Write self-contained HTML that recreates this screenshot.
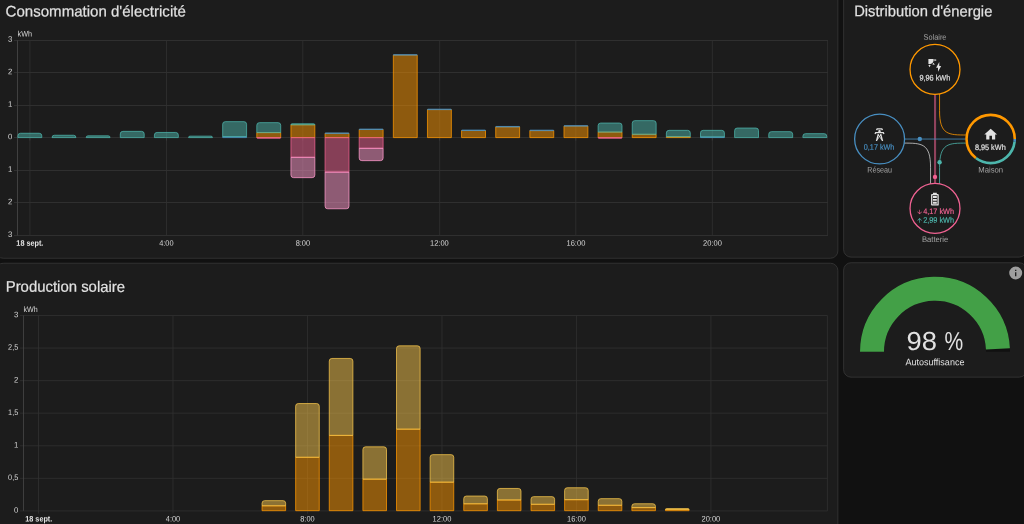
<!DOCTYPE html>
<html lang="fr"><head><meta charset="utf-8"><title>Énergie</title>
<style>
html,body{margin:0;padding:0;background:#111111;}
body{position:relative;width:1024px;height:524px;overflow:hidden;font-family:'Liberation Sans', 'DejaVu Sans', sans-serif;}
.card{position:absolute;margin:0;padding:0;overflow:hidden;}
.card svg{display:block;font-family:'Liberation Sans', 'DejaVu Sans', sans-serif;}
.card svg text{white-space:pre;}
</style></head>
<body>
<main>
<section class="card" id="card-usage" aria-label="Consommation d'électricité" style="left:0px;top:0px;width:841px;height:261px">
<svg viewBox="0 0 841 261" width="841" height="261">
<rect class="card-bg" x="-4.18" y="-12.28" width="842.06" height="270.56" rx="7.4" ry="7.4" fill="#1c1c1c" stroke="#414141" stroke-width="0.64"/>
<g class="card-header">
<text x="5.60" y="16.45" font-size="15.36" fill="#e1e1e1" textLength="180.2" lengthAdjust="spacingAndGlyphs" transform="rotate(0.05 5.60 16.45)" stroke="#e1e1e1" stroke-width="0.2">Consommation d'électricité</text>
</g>
<g class="chart">
<line x1="14.0" x2="828.0" y1="40.50" y2="40.50" stroke="#2f2f2f" stroke-width="1"/>
<line x1="14.0" x2="828.0" y1="72.50" y2="72.50" stroke="#2f2f2f" stroke-width="1"/>
<line x1="14.0" x2="828.0" y1="105.50" y2="105.50" stroke="#2f2f2f" stroke-width="1"/>
<line x1="14.0" x2="828.0" y1="137.50" y2="137.50" stroke="#2f2f2f" stroke-width="1"/>
<line x1="14.0" x2="828.0" y1="170.50" y2="170.50" stroke="#2f2f2f" stroke-width="1"/>
<line x1="14.0" x2="828.0" y1="202.50" y2="202.50" stroke="#2f2f2f" stroke-width="1"/>
<line x1="14.0" x2="828.0" y1="235.50" y2="235.50" stroke="#2f2f2f" stroke-width="1"/>
<line x1="17.5" x2="17.5" y1="40.3" y2="235.5" stroke="#404040" stroke-width="1"/>
<line x1="29.90" x2="29.90" y1="40.3" y2="235.5" stroke="#313131" stroke-width="0.8"/>
<line x1="166.50" x2="166.50" y1="40.3" y2="235.5" stroke="#313131" stroke-width="0.8"/>
<line x1="302.80" x2="302.80" y1="40.3" y2="235.5" stroke="#313131" stroke-width="0.8"/>
<line x1="439.70" x2="439.70" y1="40.3" y2="235.5" stroke="#313131" stroke-width="0.8"/>
<line x1="575.80" x2="575.80" y1="40.3" y2="235.5" stroke="#313131" stroke-width="0.8"/>
<line x1="712.30" x2="712.30" y1="40.3" y2="235.5" stroke="#313131" stroke-width="0.8"/>
<line x1="827.6" x2="827.6" y1="40.3" y2="235.5" stroke="#313131" stroke-width="0.8"/>
<line x1="29.90" x2="29.90" y1="138" y2="140.6" stroke="#3a3a3a" stroke-width="0.8"/>
<line x1="166.50" x2="166.50" y1="138" y2="140.6" stroke="#3a3a3a" stroke-width="0.8"/>
<line x1="302.80" x2="302.80" y1="138" y2="140.6" stroke="#3a3a3a" stroke-width="0.8"/>
<line x1="439.70" x2="439.70" y1="138" y2="140.6" stroke="#3a3a3a" stroke-width="0.8"/>
<line x1="575.80" x2="575.80" y1="138" y2="140.6" stroke="#3a3a3a" stroke-width="0.8"/>
<line x1="712.30" x2="712.30" y1="138" y2="140.6" stroke="#3a3a3a" stroke-width="0.8"/>
<text x="12.30" y="41.70" font-size="8.0" fill="#d6d6d6" text-anchor="end" textLength="4.3" lengthAdjust="spacingAndGlyphs" transform="rotate(0.05 12.30 41.70)">3</text>
<text x="12.30" y="74.23" font-size="8.0" fill="#d6d6d6" text-anchor="end" textLength="4.3" lengthAdjust="spacingAndGlyphs" transform="rotate(0.05 12.30 74.23)">2</text>
<text x="12.30" y="106.77" font-size="8.0" fill="#d6d6d6" text-anchor="end" textLength="4.3" lengthAdjust="spacingAndGlyphs" transform="rotate(0.05 12.30 106.77)">1</text>
<text x="12.30" y="139.30" font-size="8.0" fill="#d6d6d6" text-anchor="end" textLength="4.3" lengthAdjust="spacingAndGlyphs" transform="rotate(0.05 12.30 139.30)">0</text>
<text x="12.30" y="171.83" font-size="8.0" fill="#d6d6d6" text-anchor="end" textLength="4.3" lengthAdjust="spacingAndGlyphs" transform="rotate(0.05 12.30 171.83)">1</text>
<text x="12.30" y="204.37" font-size="8.0" fill="#d6d6d6" text-anchor="end" textLength="4.3" lengthAdjust="spacingAndGlyphs" transform="rotate(0.05 12.30 204.37)">2</text>
<text x="12.30" y="236.90" font-size="8.0" fill="#d6d6d6" text-anchor="end" textLength="4.3" lengthAdjust="spacingAndGlyphs" transform="rotate(0.05 12.30 236.90)">3</text>
<text x="17.50" y="36.60" font-size="8.0" fill="#d6d6d6" textLength="14.5" lengthAdjust="spacingAndGlyphs" transform="rotate(0.05 17.50 36.60)">kWh</text>
<text x="29.85" y="245.70" font-size="8.0" fill="#e4e4e4" text-anchor="middle" textLength="27" lengthAdjust="spacingAndGlyphs" font-weight="bold" transform="rotate(0.05 29.85 245.70)">18 sept.</text>
<text x="166.37" y="245.70" font-size="8.0" fill="#d6d6d6" text-anchor="middle" textLength="14.4" lengthAdjust="spacingAndGlyphs" transform="rotate(0.05 166.37 245.70)">4:00</text>
<text x="302.89" y="245.70" font-size="8.0" fill="#d6d6d6" text-anchor="middle" textLength="14.4" lengthAdjust="spacingAndGlyphs" transform="rotate(0.05 302.89 245.70)">8:00</text>
<text x="439.41" y="245.70" font-size="8.0" fill="#d6d6d6" text-anchor="middle" textLength="18.8" lengthAdjust="spacingAndGlyphs" transform="rotate(0.05 439.41 245.70)">12:00</text>
<text x="575.93" y="245.70" font-size="8.0" fill="#d6d6d6" text-anchor="middle" textLength="18.8" lengthAdjust="spacingAndGlyphs" transform="rotate(0.05 575.93 245.70)">16:00</text>
<text x="712.45" y="245.70" font-size="8.0" fill="#d6d6d6" text-anchor="middle" textLength="18.8" lengthAdjust="spacingAndGlyphs" transform="rotate(0.05 712.45 245.70)">20:00</text>
<path d="M17.90,135.85A2.60,2.60 0 0 1 20.50,133.25H39.20A2.60,2.60 0 0 1 41.80,135.85V137.60H17.90Z" fill="#4db6ac" fill-opacity="0.5" stroke="#4db6ac" stroke-width="0.75"/>
<path d="M52.03,137.60A2.35,2.35 0 0 1 54.38,135.25H73.58A2.35,2.35 0 0 1 75.93,137.60V137.60H52.03Z" fill="#4db6ac" fill-opacity="0.5" stroke="#4db6ac" stroke-width="0.75"/>
<path d="M86.16,137.60A1.75,1.75 0 0 1 87.91,135.85H108.31A1.75,1.75 0 0 1 110.06,137.60V137.60H86.16Z" fill="#4db6ac" fill-opacity="0.5" stroke="#4db6ac" stroke-width="0.75"/>
<path d="M120.29,133.95A2.60,2.60 0 0 1 122.89,131.35H141.59A2.60,2.60 0 0 1 144.19,133.95V137.60H120.29Z" fill="#4db6ac" fill-opacity="0.5" stroke="#4db6ac" stroke-width="0.75"/>
<path d="M154.42,135.05A2.60,2.60 0 0 1 157.02,132.45H175.72A2.60,2.60 0 0 1 178.32,135.05V137.60H154.42Z" fill="#4db6ac" fill-opacity="0.5" stroke="#4db6ac" stroke-width="0.75"/>
<path d="M188.55,137.60A1.45,1.45 0 0 1 190.00,136.15H211.00A1.45,1.45 0 0 1 212.45,137.60V137.60H188.55Z" fill="#4db6ac" fill-opacity="0.5" stroke="#4db6ac" stroke-width="0.75"/>
<path d="M222.68,136.70H246.58V137.60H222.68Z" fill="#488fc2" fill-opacity="0.5" stroke="#488fc2" stroke-width="0.75"/>
<path d="M222.68,124.25A2.60,2.60 0 0 1 225.28,121.65H243.98A2.60,2.60 0 0 1 246.58,124.25V136.70H222.68Z" fill="#4db6ac" fill-opacity="0.5" stroke="#4db6ac" stroke-width="0.75"/>
<path d="M256.81,132.60H280.71V137.60H256.81Z" fill="#ff9800" fill-opacity="0.5" stroke="#ff9800" stroke-width="0.75"/>
<path d="M256.81,125.25A2.60,2.60 0 0 1 259.41,122.65H278.11A2.60,2.60 0 0 1 280.71,125.25V132.60H256.81Z" fill="#4db6ac" fill-opacity="0.5" stroke="#4db6ac" stroke-width="0.75"/>
<path d="M256.81,137.60H280.71V137.60A0.65,0.65 0 0 1 280.06,138.25H257.46A0.65,0.65 0 0 1 256.81,137.60Z" fill="#f06292" fill-opacity="0.5" stroke="#f06292" stroke-width="0.75"/>
<path d="M290.94,124.80H314.84V137.60H290.94Z" fill="#ff9800" fill-opacity="0.5" stroke="#ff9800" stroke-width="0.75"/>
<path d="M290.94,124.80A1.05,1.05 0 0 1 291.99,123.75H313.79A1.05,1.05 0 0 1 314.84,124.80V124.80H290.94Z" fill="#4db6ac" fill-opacity="0.5" stroke="#4db6ac" stroke-width="0.75"/>
<path d="M290.94,137.60H314.84V157.30H290.94Z" fill="#f06292" fill-opacity="0.5" stroke="#f06292" stroke-width="0.75"/>
<path d="M290.94,157.30H314.84V175.05A2.60,2.60 0 0 1 312.24,177.65H293.54A2.60,2.60 0 0 1 290.94,175.05Z" fill="#ff9acc" fill-opacity="0.5" stroke="#ff9acc" stroke-width="0.75"/>
<path d="M325.07,133.40H348.97V137.60H325.07Z" fill="#ff9800" fill-opacity="0.5" stroke="#ff9800" stroke-width="0.75"/>
<path d="M325.07,133.40A0.45,0.45 0 0 1 325.52,132.95H348.52A0.45,0.45 0 0 1 348.97,133.40V133.40H325.07Z" fill="#488fc2" fill-opacity="0.5" stroke="#488fc2" stroke-width="0.75"/>
<path d="M325.07,137.60H348.97V172.10H325.07Z" fill="#f06292" fill-opacity="0.5" stroke="#f06292" stroke-width="0.75"/>
<path d="M325.07,172.10H348.97V206.15A2.60,2.60 0 0 1 346.37,208.75H327.67A2.60,2.60 0 0 1 325.07,206.15Z" fill="#ff9acc" fill-opacity="0.5" stroke="#ff9acc" stroke-width="0.75"/>
<path d="M359.20,129.50H383.10V137.60H359.20Z" fill="#ff9800" fill-opacity="0.5" stroke="#ff9800" stroke-width="0.75"/>
<path d="M359.20,129.50A0.45,0.45 0 0 1 359.65,129.05H382.65A0.45,0.45 0 0 1 383.10,129.50V129.50H359.20Z" fill="#488fc2" fill-opacity="0.5" stroke="#488fc2" stroke-width="0.75"/>
<path d="M359.20,137.60H383.10V148.30H359.20Z" fill="#f06292" fill-opacity="0.5" stroke="#f06292" stroke-width="0.75"/>
<path d="M359.20,148.30H383.10V158.05A2.60,2.60 0 0 1 380.50,160.65H361.80A2.60,2.60 0 0 1 359.20,158.05Z" fill="#ff9acc" fill-opacity="0.5" stroke="#ff9acc" stroke-width="0.75"/>
<path d="M393.33,55.10H417.23V137.60H393.33Z" fill="#ff9800" fill-opacity="0.5" stroke="#ff9800" stroke-width="0.75"/>
<path d="M393.33,55.10A0.45,0.45 0 0 1 393.78,54.65H416.78A0.45,0.45 0 0 1 417.23,55.10V55.10H393.33Z" fill="#488fc2" fill-opacity="0.5" stroke="#488fc2" stroke-width="0.75"/>
<path d="M427.46,109.60H451.36V137.60H427.46Z" fill="#ff9800" fill-opacity="0.5" stroke="#ff9800" stroke-width="0.75"/>
<path d="M427.46,109.60A0.45,0.45 0 0 1 427.91,109.15H450.91A0.45,0.45 0 0 1 451.36,109.60V109.60H427.46Z" fill="#488fc2" fill-opacity="0.5" stroke="#488fc2" stroke-width="0.75"/>
<path d="M461.59,130.50H485.49V137.60H461.59Z" fill="#ff9800" fill-opacity="0.5" stroke="#ff9800" stroke-width="0.75"/>
<path d="M461.59,130.50A0.45,0.45 0 0 1 462.04,130.05H485.04A0.45,0.45 0 0 1 485.49,130.50V130.50H461.59Z" fill="#488fc2" fill-opacity="0.5" stroke="#488fc2" stroke-width="0.75"/>
<path d="M495.72,126.90H519.62V137.60H495.72Z" fill="#ff9800" fill-opacity="0.5" stroke="#ff9800" stroke-width="0.75"/>
<path d="M495.72,126.90A0.45,0.45 0 0 1 496.17,126.45H519.17A0.45,0.45 0 0 1 519.62,126.90V126.90H495.72Z" fill="#488fc2" fill-opacity="0.5" stroke="#488fc2" stroke-width="0.75"/>
<path d="M529.85,130.60H553.75V137.60H529.85Z" fill="#ff9800" fill-opacity="0.5" stroke="#ff9800" stroke-width="0.75"/>
<path d="M529.85,130.60A0.45,0.45 0 0 1 530.30,130.15H553.30A0.45,0.45 0 0 1 553.75,130.60V130.60H529.85Z" fill="#488fc2" fill-opacity="0.5" stroke="#488fc2" stroke-width="0.75"/>
<path d="M563.98,126.10H587.88V137.60H563.98Z" fill="#ff9800" fill-opacity="0.5" stroke="#ff9800" stroke-width="0.75"/>
<path d="M563.98,126.10A0.45,0.45 0 0 1 564.43,125.65H587.43A0.45,0.45 0 0 1 587.88,126.10V126.10H563.98Z" fill="#488fc2" fill-opacity="0.5" stroke="#488fc2" stroke-width="0.75"/>
<path d="M598.11,132.10H622.01V137.60H598.11Z" fill="#ff9800" fill-opacity="0.5" stroke="#ff9800" stroke-width="0.75"/>
<path d="M598.11,125.65A2.60,2.60 0 0 1 600.71,123.05H619.41A2.60,2.60 0 0 1 622.01,125.65V132.10H598.11Z" fill="#4db6ac" fill-opacity="0.5" stroke="#4db6ac" stroke-width="0.75"/>
<path d="M598.11,137.60H622.01V137.60A0.65,0.65 0 0 1 621.36,138.25H598.76A0.65,0.65 0 0 1 598.11,137.60Z" fill="#f06292" fill-opacity="0.5" stroke="#f06292" stroke-width="0.75"/>
<path d="M632.24,134.30H656.14V137.60H632.24Z" fill="#ff9800" fill-opacity="0.5" stroke="#ff9800" stroke-width="0.75"/>
<path d="M632.24,123.25A2.60,2.60 0 0 1 634.84,120.65H653.54A2.60,2.60 0 0 1 656.14,123.25V134.30H632.24Z" fill="#4db6ac" fill-opacity="0.5" stroke="#4db6ac" stroke-width="0.75"/>
<path d="M666.37,136.70H690.27V137.60H666.37Z" fill="#ff9800" fill-opacity="0.5" stroke="#ff9800" stroke-width="0.75"/>
<path d="M666.37,132.95A2.60,2.60 0 0 1 668.97,130.35H687.67A2.60,2.60 0 0 1 690.27,132.95V136.70H666.37Z" fill="#4db6ac" fill-opacity="0.5" stroke="#4db6ac" stroke-width="0.75"/>
<path d="M700.50,137.00H724.40V137.60H700.50Z" fill="#488fc2" fill-opacity="0.5" stroke="#488fc2" stroke-width="0.75"/>
<path d="M700.50,132.95A2.60,2.60 0 0 1 703.10,130.35H721.80A2.60,2.60 0 0 1 724.40,132.95V137.00H700.50Z" fill="#4db6ac" fill-opacity="0.5" stroke="#4db6ac" stroke-width="0.75"/>
<path d="M734.63,130.65A2.60,2.60 0 0 1 737.23,128.05H755.93A2.60,2.60 0 0 1 758.53,130.65V137.60H734.63Z" fill="#4db6ac" fill-opacity="0.5" stroke="#4db6ac" stroke-width="0.75"/>
<path d="M768.76,134.25A2.60,2.60 0 0 1 771.36,131.65H790.06A2.60,2.60 0 0 1 792.66,134.25V137.60H768.76Z" fill="#4db6ac" fill-opacity="0.5" stroke="#4db6ac" stroke-width="0.75"/>
<path d="M802.89,136.25A2.60,2.60 0 0 1 805.49,133.65H824.19A2.60,2.60 0 0 1 826.79,136.25V137.60H802.89Z" fill="#4db6ac" fill-opacity="0.5" stroke="#4db6ac" stroke-width="0.75"/>
</g>
</svg>
</section>
<section class="card" id="card-solar" aria-label="Production solaire" style="left:0px;top:261px;width:841px;height:263px">
<svg viewBox="0 261 841 263" width="841" height="263">
<rect class="card-bg" x="-4.18" y="263.22" width="842.06" height="270.46" rx="7.4" ry="7.4" fill="#1c1c1c" stroke="#414141" stroke-width="0.64"/>
<g class="card-header">
<text x="5.70" y="291.80" font-size="15.36" fill="#e1e1e1" textLength="119.4" lengthAdjust="spacingAndGlyphs" transform="rotate(0.05 5.70 291.80)" stroke="#e1e1e1" stroke-width="0.2">Production solaire</text>
</g>
<g class="chart">
<line x1="20.0" x2="827.4" y1="315.50" y2="315.50" stroke="#313131" stroke-width="0.8"/>
<line x1="20.0" x2="827.4" y1="348.07" y2="348.07" stroke="#313131" stroke-width="0.8"/>
<line x1="20.0" x2="827.4" y1="380.63" y2="380.63" stroke="#313131" stroke-width="0.8"/>
<line x1="20.0" x2="827.4" y1="413.20" y2="413.20" stroke="#313131" stroke-width="0.8"/>
<line x1="20.0" x2="827.4" y1="445.77" y2="445.77" stroke="#313131" stroke-width="0.8"/>
<line x1="20.0" x2="827.4" y1="478.33" y2="478.33" stroke="#313131" stroke-width="0.8"/>
<line x1="20.0" x2="827.4" y1="510.90" y2="510.90" stroke="#313131" stroke-width="0.8"/>
<line x1="23.5" x2="23.5" y1="315.5" y2="510.9" stroke="#484848" stroke-width="0.8"/>
<line x1="38.50" x2="38.50" y1="315.5" y2="510.9" stroke="#313131" stroke-width="0.8"/>
<line x1="172.98" x2="172.98" y1="315.5" y2="510.9" stroke="#313131" stroke-width="0.8"/>
<line x1="307.46" x2="307.46" y1="315.5" y2="510.9" stroke="#313131" stroke-width="0.8"/>
<line x1="441.94" x2="441.94" y1="315.5" y2="510.9" stroke="#313131" stroke-width="0.8"/>
<line x1="576.42" x2="576.42" y1="315.5" y2="510.9" stroke="#313131" stroke-width="0.8"/>
<line x1="710.90" x2="710.90" y1="315.5" y2="510.9" stroke="#313131" stroke-width="0.8"/>
<line x1="827.4" x2="827.4" y1="315.5" y2="510.9" stroke="#313131" stroke-width="0.8"/>
<line x1="38.50" x2="38.50" y1="510.9" y2="513.6" stroke="#313131" stroke-width="0.8"/>
<line x1="172.98" x2="172.98" y1="510.9" y2="513.6" stroke="#313131" stroke-width="0.8"/>
<line x1="307.46" x2="307.46" y1="510.9" y2="513.6" stroke="#313131" stroke-width="0.8"/>
<line x1="441.94" x2="441.94" y1="510.9" y2="513.6" stroke="#313131" stroke-width="0.8"/>
<line x1="576.42" x2="576.42" y1="510.9" y2="513.6" stroke="#313131" stroke-width="0.8"/>
<line x1="710.90" x2="710.90" y1="510.9" y2="513.6" stroke="#313131" stroke-width="0.8"/>
<text x="18.30" y="317.30" font-size="8.0" fill="#d6d6d6" text-anchor="end" textLength="4.3" lengthAdjust="spacingAndGlyphs" transform="rotate(0.05 18.30 317.30)">3</text>
<text x="18.30" y="349.87" font-size="8.0" fill="#d6d6d6" text-anchor="end" textLength="10.2" lengthAdjust="spacingAndGlyphs" transform="rotate(0.05 18.30 349.87)">2,5</text>
<text x="18.30" y="382.43" font-size="8.0" fill="#d6d6d6" text-anchor="end" textLength="4.3" lengthAdjust="spacingAndGlyphs" transform="rotate(0.05 18.30 382.43)">2</text>
<text x="18.30" y="415.00" font-size="8.0" fill="#d6d6d6" text-anchor="end" textLength="10.2" lengthAdjust="spacingAndGlyphs" transform="rotate(0.05 18.30 415.00)">1,5</text>
<text x="18.30" y="447.57" font-size="8.0" fill="#d6d6d6" text-anchor="end" textLength="4.3" lengthAdjust="spacingAndGlyphs" transform="rotate(0.05 18.30 447.57)">1</text>
<text x="18.30" y="480.13" font-size="8.0" fill="#d6d6d6" text-anchor="end" textLength="10.2" lengthAdjust="spacingAndGlyphs" transform="rotate(0.05 18.30 480.13)">0,5</text>
<text x="18.30" y="512.70" font-size="8.0" fill="#d6d6d6" text-anchor="end" textLength="4.3" lengthAdjust="spacingAndGlyphs" transform="rotate(0.05 18.30 512.70)">0</text>
<text x="23.50" y="311.90" font-size="8.0" fill="#d6d6d6" textLength="14.2" lengthAdjust="spacingAndGlyphs" transform="rotate(0.05 23.50 311.90)">kWh</text>
<text x="38.80" y="521.40" font-size="8.0" fill="#e4e4e4" text-anchor="middle" textLength="27" lengthAdjust="spacingAndGlyphs" font-weight="bold" transform="rotate(0.05 38.80 521.40)">18 sept.</text>
<text x="172.98" y="521.40" font-size="8.0" fill="#d6d6d6" text-anchor="middle" textLength="14.4" lengthAdjust="spacingAndGlyphs" transform="rotate(0.05 172.98 521.40)">4:00</text>
<text x="307.46" y="521.40" font-size="8.0" fill="#d6d6d6" text-anchor="middle" textLength="14.4" lengthAdjust="spacingAndGlyphs" transform="rotate(0.05 307.46 521.40)">8:00</text>
<text x="441.94" y="521.40" font-size="8.0" fill="#d6d6d6" text-anchor="middle" textLength="18.8" lengthAdjust="spacingAndGlyphs" transform="rotate(0.05 441.94 521.40)">12:00</text>
<text x="576.42" y="521.40" font-size="8.0" fill="#d6d6d6" text-anchor="middle" textLength="18.8" lengthAdjust="spacingAndGlyphs" transform="rotate(0.05 576.42 521.40)">16:00</text>
<text x="710.90" y="521.40" font-size="8.0" fill="#d6d6d6" text-anchor="middle" textLength="18.8" lengthAdjust="spacingAndGlyphs" transform="rotate(0.05 710.90 521.40)">20:00</text>
<path d="M262.04,505.80H285.64V510.70H262.04Z" fill="#ff9800" fill-opacity="0.5" stroke="#ff9800" stroke-width="0.75"/>
<path d="M262.04,503.25A2.60,2.60 0 0 1 264.64,500.65H283.04A2.60,2.60 0 0 1 285.64,503.25V505.80H262.04Z" fill="#f7c64c" fill-opacity="0.5" stroke="#f7c64c" stroke-width="0.75"/>
<path d="M295.66,457.30H319.26V510.70H295.66Z" fill="#ff9800" fill-opacity="0.5" stroke="#ff9800" stroke-width="0.75"/>
<path d="M295.66,406.15A2.60,2.60 0 0 1 298.26,403.55H316.66A2.60,2.60 0 0 1 319.26,406.15V457.30H295.66Z" fill="#f7c64c" fill-opacity="0.5" stroke="#f7c64c" stroke-width="0.75"/>
<path d="M329.28,435.40H352.88V510.70H329.28Z" fill="#ff9800" fill-opacity="0.5" stroke="#ff9800" stroke-width="0.75"/>
<path d="M329.28,361.05A2.60,2.60 0 0 1 331.88,358.45H350.28A2.60,2.60 0 0 1 352.88,361.05V435.40H329.28Z" fill="#f7c64c" fill-opacity="0.5" stroke="#f7c64c" stroke-width="0.75"/>
<path d="M362.90,479.20H386.50V510.70H362.90Z" fill="#ff9800" fill-opacity="0.5" stroke="#ff9800" stroke-width="0.75"/>
<path d="M362.90,449.45A2.60,2.60 0 0 1 365.50,446.85H383.90A2.60,2.60 0 0 1 386.50,449.45V479.20H362.90Z" fill="#f7c64c" fill-opacity="0.5" stroke="#f7c64c" stroke-width="0.75"/>
<path d="M396.52,429.20H420.12V510.70H396.52Z" fill="#ff9800" fill-opacity="0.5" stroke="#ff9800" stroke-width="0.75"/>
<path d="M396.52,348.45A2.60,2.60 0 0 1 399.12,345.85H417.52A2.60,2.60 0 0 1 420.12,348.45V429.20H396.52Z" fill="#f7c64c" fill-opacity="0.5" stroke="#f7c64c" stroke-width="0.75"/>
<path d="M430.14,482.20H453.74V510.70H430.14Z" fill="#ff9800" fill-opacity="0.5" stroke="#ff9800" stroke-width="0.75"/>
<path d="M430.14,457.25A2.60,2.60 0 0 1 432.74,454.65H451.14A2.60,2.60 0 0 1 453.74,457.25V482.20H430.14Z" fill="#f7c64c" fill-opacity="0.5" stroke="#f7c64c" stroke-width="0.75"/>
<path d="M463.76,503.80H487.36V510.70H463.76Z" fill="#ff9800" fill-opacity="0.5" stroke="#ff9800" stroke-width="0.75"/>
<path d="M463.76,498.65A2.60,2.60 0 0 1 466.36,496.05H484.76A2.60,2.60 0 0 1 487.36,498.65V503.80H463.76Z" fill="#f7c64c" fill-opacity="0.5" stroke="#f7c64c" stroke-width="0.75"/>
<path d="M497.38,500.00H520.98V510.70H497.38Z" fill="#ff9800" fill-opacity="0.5" stroke="#ff9800" stroke-width="0.75"/>
<path d="M497.38,491.05A2.60,2.60 0 0 1 499.98,488.45H518.38A2.60,2.60 0 0 1 520.98,491.05V500.00H497.38Z" fill="#f7c64c" fill-opacity="0.5" stroke="#f7c64c" stroke-width="0.75"/>
<path d="M531.00,504.30H554.60V510.70H531.00Z" fill="#ff9800" fill-opacity="0.5" stroke="#ff9800" stroke-width="0.75"/>
<path d="M531.00,499.25A2.60,2.60 0 0 1 533.60,496.65H552.00A2.60,2.60 0 0 1 554.60,499.25V504.30H531.00Z" fill="#f7c64c" fill-opacity="0.5" stroke="#f7c64c" stroke-width="0.75"/>
<path d="M564.62,499.70H588.22V510.70H564.62Z" fill="#ff9800" fill-opacity="0.5" stroke="#ff9800" stroke-width="0.75"/>
<path d="M564.62,490.35A2.60,2.60 0 0 1 567.22,487.75H585.62A2.60,2.60 0 0 1 588.22,490.35V499.70H564.62Z" fill="#f7c64c" fill-opacity="0.5" stroke="#f7c64c" stroke-width="0.75"/>
<path d="M598.24,505.30H621.84V510.70H598.24Z" fill="#ff9800" fill-opacity="0.5" stroke="#ff9800" stroke-width="0.75"/>
<path d="M598.24,501.25A2.60,2.60 0 0 1 600.84,498.65H619.24A2.60,2.60 0 0 1 621.84,501.25V505.30H598.24Z" fill="#f7c64c" fill-opacity="0.5" stroke="#f7c64c" stroke-width="0.75"/>
<path d="M631.86,507.60H655.46V510.70H631.86Z" fill="#ff9800" fill-opacity="0.5" stroke="#ff9800" stroke-width="0.75"/>
<path d="M631.86,506.35A2.60,2.60 0 0 1 634.46,503.75H652.86A2.60,2.60 0 0 1 655.46,506.35V507.60H631.86Z" fill="#f7c64c" fill-opacity="0.5" stroke="#f7c64c" stroke-width="0.75"/>
<path d="M665.48,509.60H689.08V510.70H665.48Z" fill="#ff9800" fill-opacity="0.5" stroke="#ff9800" stroke-width="0.75"/>
<path d="M665.48,509.60A1.05,1.05 0 0 1 666.53,508.55H688.03A1.05,1.05 0 0 1 689.08,509.60V509.60H665.48Z" fill="#f7c64c" fill-opacity="0.5" stroke="#f7c64c" stroke-width="0.75"/>
</g>
</svg>
</section>
<section class="card" id="card-dist" aria-label="Distribution d'énergie" style="left:841px;top:0px;width:183px;height:260px">
<svg viewBox="841 0 183 260" width="183" height="260">
<rect class="card-bg" x="843.62" y="-12.28" width="182.96" height="269.41" rx="7.4" ry="7.4" fill="#1c1c1c" stroke="#414141" stroke-width="0.64"/>
<g class="card-header">
<text x="854.15" y="16.30" font-size="15.36" fill="#e1e1e1" textLength="138.2" lengthAdjust="spacingAndGlyphs" transform="rotate(0.05 854.15 16.30)" stroke="#e1e1e1" stroke-width="0.2">Distribution d'énergie</text>
</g>
<g class="flow">
<g transform="translate(890.05,98.55) scale(0.9,0.81)" fill="none" stroke-width="0.8">
<path d="M55,-6 v21 c0,30 10,30 30,30 h25" stroke="#ff9800" vector-effect="non-scaling-stroke"/>
<path d="M50,-6 V106" stroke="#f06292" stroke-opacity="0.55" stroke-width="2.1" vector-effect="non-scaling-stroke"/>
<path d="M55,106 v-21 c0,-30 10,-30 30,-30 h20" stroke="#4db6ac" vector-effect="non-scaling-stroke"/>
<path d="M45,106 v-21 c0,-30 -10,-30 -30,-30 h-20" stroke="#cfcfcf" vector-effect="non-scaling-stroke"/>
<path d="M0,50 H100" stroke="#488fc2" vector-effect="non-scaling-stroke"/>
</g>
<circle cx="919.8" cy="139" r="2.2" fill="#488fc2"/>
<circle cx="939.6" cy="162.2" r="2.2" fill="#4db6ac"/>
<circle cx="935" cy="176.9" r="2.2" fill="#f06292"/>
<circle cx="935" cy="69.4" r="24.96" fill="#1c1c1c" stroke="#ff9800" stroke-width="1.3"/>
<circle cx="879.6" cy="139" r="24.96" fill="#1c1c1c" stroke="#488fc2" stroke-width="1.3"/>
<circle cx="935" cy="208.4" r="24.96" fill="#1c1c1c" stroke="#f06292" stroke-width="1.3"/>
<circle cx="990.65" cy="139.0" r="25.3" fill="#1c1c1c"/>
<circle cx="990.65" cy="139.0" r="24.12" fill="none" stroke="#488fc2" stroke-width="2.56" stroke-dasharray="2.879 148.672" stroke-dashoffset="0.000"/>
<circle cx="990.65" cy="139.0" r="24.12" fill="none" stroke="#4db6ac" stroke-width="2.56" stroke-dasharray="50.630 100.921" stroke-dashoffset="-2.879"/>
<circle cx="990.65" cy="139.0" r="24.12" fill="none" stroke="#ff9800" stroke-width="2.56" stroke-dasharray="98.042 53.508" stroke-dashoffset="-53.508"/>
<path transform="translate(927.12,57.62) scale(0.6400)" d="M11.45,2V5.55L15,3.77L11.45,2M10.45,8L8,10.46L11.75,11.71L10.45,8M2,11.45L3.77,15L5.55,11.45H2M10,2H2V10C2.57,10.17 3.17,10.25 3.77,10.25C7.35,10.26 10.26,7.35 10.27,3.75C10.26,3.16 10.17,2.57 10,2M17,22V16H14L19,7V13H22L17,22Z" fill="#e1e1e1"/>
<path transform="translate(871.82,126.92) scale(0.6400)" d="M8.28,5.45L6.5,4.55L7.76,2H16.23L17.5,4.55L15.72,5.44L15,4H9L8.28,5.45M18.62,8H14.09L13.3,5H10.7L9.91,8H5.38L4.1,10.55L5.89,11.44L6.62,10H17.38L18.1,11.45L19.89,10.56L18.62,8M17.77,22H15.7L15.46,21.1L12,15.9L8.53,21.1L8.3,22H6.23L9.12,11H11.19L10.83,12.35L12,14.1L13.16,12.35L12.81,11H14.88L17.77,22M11.4,15L10.5,13.65L9.32,18.13L11.4,15M14.68,18.12L13.5,13.64L12.6,15L14.68,18.12Z" fill="#e1e1e1"/>
<path transform="translate(983.02,126.82) scale(0.6400)" d="M10,20V14H14V20H19V12H22L12,3L2,12H5V20H10Z" fill="#e1e1e1"/>
<path transform="translate(927.22,191.52) scale(0.6400)" d="M16,20H8V6H16M16.67,4H15V2H9V4H7.33A1.33,1.33 0 0,0 6,5.33V20.67C6,21.4 6.6,22 7.33,22H16.67A1.33,1.33 0 0,0 18,20.67V5.33C18,4.6 17.4,4 16.67,4M15,16H9V19H15V16M15,7H9V10H15V7M15,11.5H9V14.5H15V11.5Z" fill="#e1e1e1"/>
<text x="935.00" y="39.70" font-size="8.0" fill="#a4a4a4" text-anchor="middle" textLength="22.8" lengthAdjust="spacingAndGlyphs" transform="rotate(0.05 935.00 39.70)">Solaire</text>
<text x="934.90" y="80.55" font-size="8.0" fill="#e1e1e1" text-anchor="middle" textLength="30.9" lengthAdjust="spacingAndGlyphs" transform="rotate(0.05 934.90 80.55)" stroke="#e1e1e1" stroke-width="0.18">9,96 kWh</text>
<text x="879.10" y="149.80" font-size="8.0" fill="#488fc2" text-anchor="middle" textLength="30.5" lengthAdjust="spacingAndGlyphs" transform="rotate(0.05 879.10 149.80)" stroke="#488fc2" stroke-width="0.18">0,17 kWh</text>
<text x="879.60" y="172.60" font-size="8.0" fill="#a4a4a4" text-anchor="middle" textLength="24.8" lengthAdjust="spacingAndGlyphs" transform="rotate(0.05 879.60 172.60)">Réseau</text>
<text x="990.30" y="149.90" font-size="8.0" fill="#e1e1e1" text-anchor="middle" textLength="30.8" lengthAdjust="spacingAndGlyphs" transform="rotate(0.05 990.30 149.90)" stroke="#e1e1e1" stroke-width="0.18">8,95 kWh</text>
<text x="990.70" y="172.60" font-size="8.0" fill="#a4a4a4" text-anchor="middle" textLength="24.9" lengthAdjust="spacingAndGlyphs" transform="rotate(0.05 990.70 172.60)">Maison</text>
<path transform="translate(916.10,208.50) scale(0.2917)" d="M11,4H13V16L18.5,10.5L19.92,11.92L12,19.84L4.08,11.92L5.5,10.5L11,16V4Z" fill="#f06292"/>
<text x="923.20" y="214.10" font-size="8.0" fill="#f06292" textLength="30.9" lengthAdjust="spacingAndGlyphs" transform="rotate(0.05 923.20 214.10)" stroke="#f06292" stroke-width="0.18">4,17 kWh</text>
<path transform="translate(916.10,216.90) scale(0.2917)" d="M13,20H11V8L5.5,13.5L4.08,12.08L12,4.16L19.92,12.08L18.5,13.5L13,8V20Z" fill="#4db6ac"/>
<text x="923.20" y="222.80" font-size="8.0" fill="#4db6ac" textLength="30.9" lengthAdjust="spacingAndGlyphs" transform="rotate(0.05 923.20 222.80)" stroke="#4db6ac" stroke-width="0.18">2,99 kWh</text>
<text x="935.10" y="242.00" font-size="8.0" fill="#a4a4a4" text-anchor="middle" textLength="26.3" lengthAdjust="spacingAndGlyphs" transform="rotate(0.05 935.10 242.00)">Batterie</text>
</g>
</svg>
</section>
<section class="card" id="card-gauge" aria-label="Autosuffisance" style="left:841px;top:260px;width:183px;height:264px">
<svg viewBox="841 260 183 264" width="183" height="264">
<rect class="card-bg" x="843.62" y="262.72" width="182.96" height="114.46" rx="7.4" ry="7.4" fill="#1c1c1c" stroke="#414141" stroke-width="0.64"/>
<g class="gauge">
<path d="M872.00,351.8 A63.00,63.00 0 0 1 998.00,351.8" fill="none" stroke="#111111" stroke-width="24.00"/>
<path d="M872.00,351.8 A63.00,63.00 0 0 1 997.93,348.83" fill="none" stroke="#43a047" stroke-width="24.00"/>
<text x="906.60" y="349.90" font-size="26" fill="#e1e1e1" textLength="30.4" lengthAdjust="spacingAndGlyphs" transform="rotate(0.05 906.60 349.90)">98</text>
<text x="944.40" y="349.90" font-size="26" fill="#e1e1e1" textLength="18.7" lengthAdjust="spacingAndGlyphs" transform="rotate(0.05 944.40 349.90)">%</text>
<text x="934.95" y="365.20" font-size="9.3" fill="#e1e1e1" text-anchor="middle" textLength="59.0" lengthAdjust="spacingAndGlyphs" transform="rotate(0.05 934.95 365.20)">Autosuffisance</text>
<path transform="translate(1007.90,265.20) scale(0.6500)" d="M13,9H11V7H13M13,17H11V11H13M12,2A10,10 0 0,0 2,12A10,10 0 0,0 12,22A10,10 0 0,0 22,12A10,10 0 0,0 12,2Z" fill="#9e9e9e"/>
</g>
</svg>
</section>
</main>
</body></html>
